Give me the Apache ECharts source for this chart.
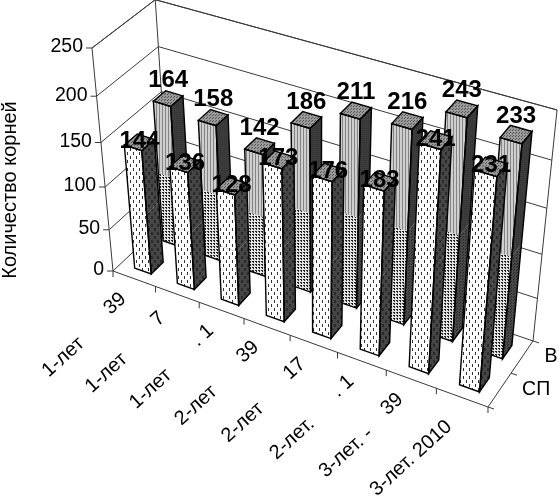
<!DOCTYPE html>
<html>
<head>
<meta charset="utf-8">
<style>html,body{margin:0;padding:0;background:#fff}#main{width:559px;height:501px}</style>
<script src="https://cdn.jsdelivr.net/npm/echarts@6/dist/echarts.min.js"></script>
</head>
<body>
<div id="main"></div>
<script>
// '|' splits what is still legible of each label in the scan
const categories = ['1-лет|39', '1-лет|7', '1-лет|. 1', '2-лет|39', '2-лет|17', '2-лет.|. 1', '3-лет. -|39', '3-лет. 2010'];
const rows = ['СП', 'В'];
const valuesSP = [144, 136, 128, 173, 176, 183, 241, 231];
const valuesB = [164, 158, 142, 186, 211, 216, 243, 233];
const yTicks = [0, 50, 100, 150, 200, 250];
const yTitle = 'Количество корней';

const W = 559, H = 501;
const FONT = '"Liberation Sans", Arial, sans-serif';
const LABEL_TILT = 42 * Math.PI / 180;

// excel style perspective box: unit cube -> page pixels
function project(x, y, z) {
    const d = 1 - 0.1047 * x - 0.0937 * y + 0.045 * z;
    return [
        (113 + 323.9 * x - 29.6 * y + 64.3 * z) / d,
        (271 + 93.4 * x - 227.5 * y - 43.8 * z) / d
    ];
}

function makePattern(w, h, bg, draw) {
    const c = document.createElement('canvas');
    c.width = w; c.height = h;
    const ctx = c.getContext('2d');
    ctx.fillStyle = bg;
    ctx.fillRect(0, 0, w, h);
    draw(ctx);
    return { image: c, repeat: 'repeat' };
}
function cells(color, list) {
    return function (ctx) {
        ctx.fillStyle = color;
        list.forEach(r => ctx.fillRect(r[0], r[1], r[2], r[3]));
    };
}
const fills = {
    whiteDash: makePattern(6, 8, '#fff', cells('#333', [[1, 0, 1, 3], [4, 4, 1, 3]])),
    stripes: makePattern(3, 2, '#cecece', cells('#848484', [[0, 0, 1, 2]])),
    dots: makePattern(3, 3, '#e4e4e4', cells('#222', [[0, 0, 2, 1], [1, 1, 1, 1]])),
    darkDash: makePattern(6, 8, '#464646', cells('#2a2a2a', [[1, 0, 2, 3], [4, 4, 2, 3]])),
    dark: makePattern(2, 2, '#3c3c3c', cells('#333', [[0, 0, 1, 1]])),
    darkDots: makePattern(3, 3, '#484848', cells('#282828', [[0, 0, 1, 1], [1, 2, 1, 1]])),
    top: makePattern(3, 3, '#9a9a9a', cells('#555', [[0, 0, 1, 1], [2, 1, 1, 1]]))
};

function poly(points, fill) {
    return { type: 'polygon', shape: { points: points }, style: { fill: fill, stroke: null } };
}
function outline(points) {
    return { type: 'polygon', shape: { points: points }, style: { fill: 'none', stroke: '#000', lineWidth: 1.4 } };
}
function line(a, b) {
    return { type: 'line', shape: { x1: a[0], y1: a[1], x2: b[0], y2: b[1] }, style: { stroke: '#3a3a3a', lineWidth: 1 } };
}
function text(str, x, y, font, align, rotation) {
    return {
        type: 'text', x: x, y: y, rotation: rotation || 0, z2: 100,
        style: { text: str, x: 0, y: 0, font: font, fill: '#000', align: align, verticalAlign: 'middle' }
    };
}

// page pixel from the hidden axes -> unit cube
function boxX(api, i, off) {
    return (api.coord([i, 0])[0] + off * api.size([1, 0])[0]) / W;
}
function boxY(api, v) {
    return (H - api.coord([0, v])[1]) / H;
}

function renderFrame(params, api) {
    const kids = [];
    const nc = categories.length;
    // walls
    kids.push(line(project(0, 0, 0), project(0, 1, 0)));
    kids.push(line(project(0, 1, 0), project(0, 1, 1)));
    kids.push(line(project(0, 1, 1), project(1, 1, 1)));
    kids.push(line(project(0, 0, 1), project(0, 1, 1)));
    kids.push(line(project(1, 0, 1), project(1, 1, 1)));
    kids.push(line(project(0, 0, 0), project(1, 0, 0)));
    kids.push(line(project(1, 0, 0), project(1, 0, 1)));
    yTicks.forEach(t => {
        const y = boxY(api, t);
        const a = project(0, y, 0);
        kids.push(line(project(0, y, 0), project(0, y, 1)));
        kids.push(line(project(0, y, 1), project(1, y, 1)));
        kids.push(line([a[0] - 6, a[1]], a));
        kids.push(text(String(t), a[0] - 9, a[1] - 1, '19.5px ' + FONT, 'right'));
    });
    // floor ticks
    for (let i = 0; i <= nc; i++) {
        const p = project(i / nc, 0, 0);
        kids.push(line(p, [p[0], p[1] + 6]));
    }
    for (let j = 0; j <= rows.length; j++) {
        const p = project(1, 0, j / rows.length);
        kids.push(line(p, [p[0] + 6, p[1] + 2]));
    }
    rows.forEach((r, j) => {
        const p = project(1, 0, (j + 0.56) / rows.length);
        kids.push(text(r, p[0] + 21, p[1] + 2, '19.5px ' + FONT, 'left'));
    });
    categories.forEach((c, i) => {
        const p = project(boxX(api, i, 0), 0, 0);
        const parts = c.split('|');
        kids.push(text(parts[0], p[0] - 89, p[1] + 95, '20px ' + FONT, 'left', LABEL_TILT));
        if (parts[1]) {
            kids.push(text(parts[1], p[0] - 19, p[1] + 25, '20px ' + FONT, 'center', LABEL_TILT));
        }
    });
    kids.push(text(yTitle, 10, 190, '20px ' + FONT, 'center', Math.PI / 2));
    return { type: 'group', children: kids };
}

const BAR_LEFT = -0.18;   // share of a category band
const BAR_RIGHT = 0.21;
const BAR_DEPTH = 0.21;

function renderBar(row, labelLift, faces) {
    return function (params, api) {
        const i = api.value(0);
        const v = api.value(1);
        const x0 = boxX(api, i, BAR_LEFT);
        const x1 = boxX(api, i, BAR_RIGHT);
        const z0 = (row + 0.28) / rows.length;
        const z1 = z0 + BAR_DEPTH;
        const yTop = boxY(api, v);
        const yMid = boxY(api, v / 2);

        const front = (a, b) => [project(x0, a, z0), project(x1, a, z0), project(x1, b, z0), project(x0, b, z0)];
        const side = (a, b) => [project(x1, a, z0), project(x1, a, z1), project(x1, b, z1), project(x1, b, z0)];
        const top = [project(x0, yTop, z0), project(x1, yTop, z0), project(x1, yTop, z1), project(x0, yTop, z1)];

        const c = project((x0 + x1) / 2, yTop, (z0 + z1) / 2);
        return {
            type: 'group',
            children: [
                poly(front(0, yMid), faces.frontLow),
                poly(front(yMid, yTop), faces.frontHigh),
                poly(side(0, yMid), faces.sideLow),
                poly(side(yMid, yTop), faces.sideHigh),
                poly(top, fills.top),
                outline(front(0, yTop)),
                outline(side(0, yTop)),
                outline(top),
                text(String(v), c[0], c[1] - labelLift, 'bold 24px ' + FONT, 'center')
            ]
        };
    };
}

const chart = echarts.init(document.getElementById('main'));
chart.setOption({
    animation: false,
    grid: { left: 0, right: 0, top: 0, bottom: 0 },
    xAxis: { type: 'category', data: categories, show: false },
    yAxis: { type: 'value', min: 0, max: 250, interval: 50, show: false },
    series: [
        {
            type: 'custom', name: 'frame', silent: true,
            renderItem: renderFrame,
            data: [[0, 0]]
        },
        {
            type: 'custom', name: rows[1], silent: true,
            renderItem: renderBar(1, 18, { frontLow: fills.dots, frontHigh: fills.stripes, sideLow: fills.darkDots, sideHigh: fills.dark }),
            data: valuesB.map((v, i) => [i, v])
        },
        {
            type: 'custom', name: rows[0], silent: true,
            renderItem: renderBar(0, 1, { frontLow: fills.whiteDash, frontHigh: fills.whiteDash, sideLow: fills.darkDash, sideHigh: fills.darkDash }),
            data: valuesSP.map((v, i) => [i, v])
        }
    ]
});
</script>
</body>
</html>
